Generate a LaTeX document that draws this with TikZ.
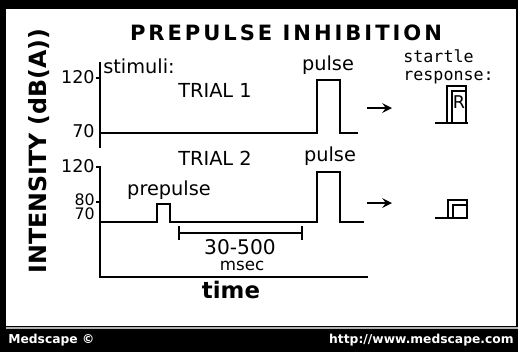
\documentclass[tikz,border=0pt]{standalone}
\usepackage{fontspec}
\setmainfont{DejaVu Sans}
\newfontfamily\monofont{DejaVu Sans Mono}
\usepackage{tikz}

\begin{document}
\begin{tikzpicture}[>=stealth,x=0.02cm,y=-0.02cm,
    sig/.style={line width=1pt},
    lbl/.style={inner sep=0pt,font=\fontsize{11}{11}\selectfont},
    num/.style={inner sep=0pt,anchor=east,font=\fontsize{10}{10}\selectfont},
    bartxt/.style={inner sep=0pt,text=white,font=\fontsize{7}{7}\selectfont\bfseries}]
	  \useasboundingbox (0,0) rectangle (518,352);
	  \fill[black] (0,0) rectangle (518,352);
	  \fill[white] (6,9) rectangle (516,326);
	  \draw[gray!60,line width=1pt] (6,328) -- (518,328);
	  \node[bartxt,anchor=west] (brand) at (8,340) {Medscape \textcopyright};
	  \node[bartxt,anchor=east] (url) at (514,340) {http://www.medscape.com};
	  \node[inner sep=0pt,font=\fontsize{12}{12}\selectfont\bfseries\addfontfeature{LetterSpace=14}] (title) at (286,33) {PREPULSE INHIBITION};
	  \node[inner sep=0pt,rotate=90,font=\fontsize{13.5}{13.5}\selectfont\bfseries] (ylab) at (39,151) {INTENSITY (dB(A))};
	  \draw[sig] (100,62) -- (100,148);
	  \draw[sig] (96,78) -- (101,78);
	  \node[num] (t1hi) at (95,77) {120};
	  \node[num] (t1lo) at (95,131) {70};
	  \draw[sig] (100,133) -- (317,133) -- (317,80) -- (340,80) -- (340,133) -- (358,133);
	  \node[lbl,anchor=west] (stim) at (103,66) {stimuli:};
	  \node[lbl] (trial1) at (215,90) {TRIAL 1};
	  \node[lbl] (pulse1) at (328,65) {pulse};
	  \coordinate (a1) at (367,108);
	  \coordinate (b1) at (392,108);
	  \draw[->,line width=1.4pt] (a1) -- (b1);
	  \node[inner sep=0pt,anchor=west,font=\monofont\fontsize{9.5}{9.5}\selectfont] (startle) at (403,56) {startle};
	  \node[inner sep=0pt,anchor=west,font=\monofont\fontsize{9.5}{9.5}\selectfont] (resp) at (403,78) {response:};
	  \draw[sig] (435,123) -- (468,123);
	  \draw[sig] (447,123) -- (447,86) -- (466,86) -- (466,123);
	  \draw[sig] (452,123) -- (452,91) -- (466,91);
	  \node[inner sep=0pt,font=\fontsize{10}{10}\selectfont] (r) at (459,102) {R};
	  \draw[sig] (100,167) -- (100,277) -- (368,277);
	  \draw[sig] (96,167) -- (101,167);
	  \draw[sig] (96,202) -- (101,202);
	  \node[num] (t2hi) at (95,166) {120};
	  \node[num,font=\fontsize{9}{9}\selectfont] (t2mid) at (95,200) {80};
	  \node[num,font=\fontsize{9}{9}\selectfont] (t2lo) at (95,214) {70};
	  \draw[sig] (100,222) -- (157,222) -- (157,204) -- (170,204) -- (170,222) -- (317,222) -- (317,172) -- (340,172) -- (340,222) -- (364,222);
	  \node[lbl] (trial2) at (215,158) {TRIAL 2};
	  \node[lbl] (pre) at (169,190) {prepulse};
	  \node[lbl] (pulse2) at (330,156) {pulse};
	  \coordinate (a2) at (367,203);
	  \coordinate (b2) at (392,203);
	  \draw[->,line width=1.4pt] (a2) -- (b2);
	  \draw[sig] (435,218) -- (468,218);
	  \draw[sig] (448,218) -- (448,200) -- (467,200) -- (467,218);
	  \draw[sig] (453,218) -- (453,205) -- (467,205);
	  \coordinate (iv1) at (178,233);
	  \coordinate (iv2) at (303,233);
	  \draw[|-|,line width=1pt] (iv1) -- (iv2);
	  \node[inner sep=0pt,font=\fontsize{11.5}{11.5}\selectfont] (dur) at (240,247) {30-500};
	  \node[inner sep=0pt,font=\fontsize{9.5}{9.5}\selectfont] (ms) at (242,266) {msec};
	  \node[inner sep=0pt,font=\fontsize{13}{13}\selectfont\bfseries] (time) at (231,290) {time};
	\end{tikzpicture}
\end{document}
